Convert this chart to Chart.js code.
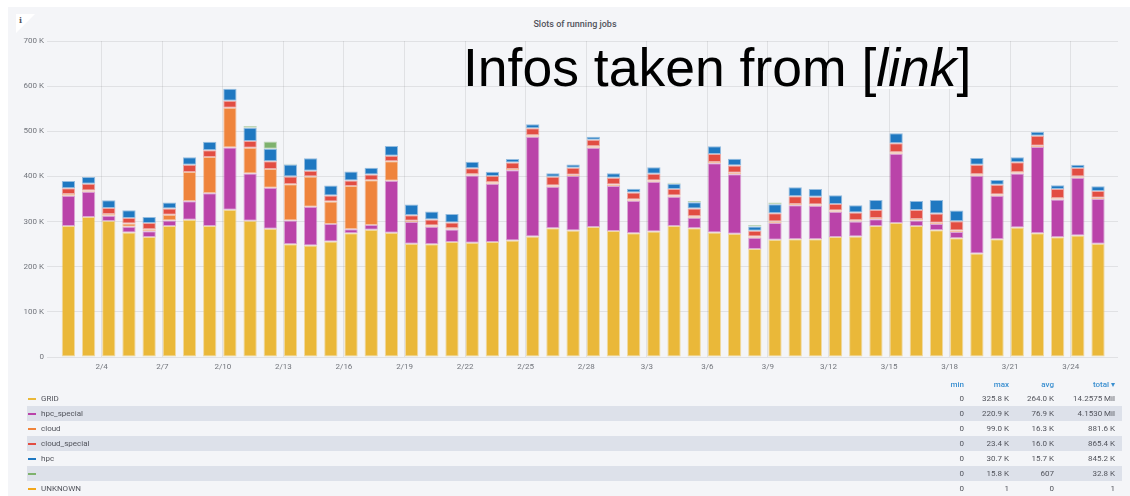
<!DOCTYPE html>
<html><head><meta charset="utf-8">
<script src="https://cdn.jsdelivr.net/npm/chart.js@4/dist/chart.umd.min.js"></script>
<style>
html,body{margin:0;padding:0;background:#fff;}
body{width:1130px;height:496px;position:relative;overflow:hidden;font-family:Roboto,"Noto Sans",sans-serif;}
#panel{position:absolute;left:8px;top:7px;right:0;bottom:0;background:#f4f5f8;}
#corner{position:absolute;left:16px;top:14px;width:0;height:0;border-top:19px solid #fff;border-right:19px solid transparent;}
#info{position:absolute;left:19px;top:15px;font:bold 8px "DejaVu Serif",serif;color:#52545c;}
#title{position:absolute;left:0;width:1150px;top:19px;text-align:center;font:500 9px Roboto,sans-serif;color:#52545c;}
#chart{position:absolute;left:0;top:0;}
#overlay{position:absolute;left:463px;top:41px;font-size:53.5px;font-family:"Liberation Sans",Arial,sans-serif;line-height:1;color:#000;white-space:nowrap;}
#overlay i{text-decoration:underline;text-decoration-color:#fff;text-decoration-thickness:2px;}
.row{position:absolute;left:27px;width:1095px;height:15px;font:8px Roboto,sans-serif;line-height:15px;color:#52545c;}
.row.shade{background:#dde1ea;}
.sw{position:absolute;left:1px;top:7px;width:8px;height:2px;}
.nm{position:absolute;left:14px;top:0;}
.c{position:absolute;top:0;text-align:right;width:80px;}
.hdr{color:#3a8fd0;font-weight:500;}
</style>
</head><body>
<div id="panel"></div>
<div id="corner"></div>
<div id="info">i</div>
<div id="title">Slots of running jobs</div>
<canvas id="chart" width="1130" height="380"></canvas>
<div id="overlay">Infos taken from [<i>link</i>]</div>
<div id="legend"></div>
<script>
// dates of the daily bars
const days = ['2/2','2/3','2/4','2/5','2/6','2/7','2/8','2/9','2/10','2/11','2/12','2/13','2/14','2/15','2/16','2/17','2/18','2/19','2/20','2/21','2/22','2/23','2/24','2/25','2/26','2/27','2/28','3/1','3/2','3/3','3/4','3/5','3/6','3/7','3/8','3/9','3/10','3/11','3/12','3/13','3/14','3/15','3/16','3/17','3/18','3/19','3/20','3/21','3/22','3/23','3/24','3/25'];
const tickLabels = ['2/4','2/7','2/10','2/13','2/16','2/19','2/22','2/25','2/28','3/3','3/6','3/9','3/12','3/15','3/18','3/21','3/24'];
const yTicks = [0,100,200,300,400,500,600,700];
// values in thousands of slots
const GRID = [290,310,301,276,266,290,304,290,326,302,284,250,247, 256,274,282,275,251,250,255,253,255,258,267,285,280, 288,279,274,278,290,285,276,273,239,260,261,261,266, 267,290,297,290,281,263,229,261,287,274,265,269,251];
const hpc_special = [67,56,12,12.5,12.5,12.6,41,73,138,104.5,91,52.6,86, 38.5,9,10.4,115.6,48,38.5,27.4,149,129,155.6,221,92,120.7, 175.6,100,72,110,65,23.7,153,132,25,37,75,74,55.5, 33,15,153.4,12.6,13.4,14,172.6,96,119.3,191,83.7,128,99];
const cloud = [4,3,4,7,4.5,12.6,65,80,88,57,41.5,80,66.7, 50,96,99,43,3,3,3,3,3,3,3,3,3, 3,3,3,3,3,3,3,3,3,3,3,3,3, 3,3,3,3,3,3,3,3,3,3,3,3,3];
const cloud_special = [12.6,15,13,12.6,14,14,15.6,15,15.5,15,17,17,13, 13.4,12,12.6,12,12,13,12.6,13.3,14,14,15.5,19.3,15.6, 14.8,14.8,15.6,14.8,14,17,17.8,16.3,12.6,18.5,17,17,14.7, 17,17.8,20,20,20.7,20.7,21.5,21.5,22.3,22.2,20.7,18.6,14.8];
const hpc = [16,15,17,17,13.4,13,17,19,26.6,29.6,28,26.7,27.4, 22,20,15,22,24,18,18.5,14,9.6,8,9,8,7.4, 6.7,10.3,8,14.8,12,14,17,15,9.6,20,20,17,19.3, 16.3,22,22,20,29.6,23.7,14.8,10.4,11,8.9,8.2,7.4,10.4];
const unnamed = [0,0,0,0,0,0,0,0,0,3.8,16,2,0, 0,0,0,0,0,0,0,0,0,0,0,0,0, 0,0,0,0,2,3,0,0,3,3.7,0,0,0, 0,0,0,0,0,0,0,0,0,0,0,0,0];
const UNKNOWN = [0,0,0,0,0,0,0,0,0,0,0.001,0,0, 0,0,0,0,0,0,0,0,0,0,0,0,0, 0,0,0,0,0,0,0,0,0,0,0,0,0, 0,0,0,0,0,0,0,0,0,0,0,0,0];

const seriesNames = ['GRID','hpc_special','cloud','cloud_special','hpc','','UNKNOWN'];
const seriesColors = ['#EAB839','#BA43A9','#EF843C','#E24D42','#1F78C1','#7EB26D','#F2A71B'];
const seriesData = [GRID,hpc_special,cloud,cloud_special,hpc,unnamed,UNKNOWN];
const statMin = ['0','0','0','0','0','0','0'];
const statMax = ['325.8 K','220.9 K','99.0 K','23.4 K','30.7 K','15.8 K','1'];
const statAvg = ['264.0 K','76.9 K','16.3 K','16.0 K','15.7 K','607','0'];
const statTotal = ['14.2575 Mil','4.1530 Mil','881.6 K','865.4 K','845.2 K','32.8 K','1'];

const BAR_OFFSET = 0.35;
function hexA(h,a){const n=parseInt(h.slice(1),16);return `rgba(${n>>16},${(n>>8)&255},${n&255},${a})`;}

const datasets = seriesData.map((arr,k)=>({
  label: seriesNames[k] || ' ',
  data: arr.map((v,i)=>({x:i+BAR_OFFSET,y:v})),
  backgroundColor: seriesColors[k],
  borderColor: hexA(seriesColors[k],0.45),
  borderWidth: 1,
  borderSkipped: false,
  barPercentage: 0.66,
  categoryPercentage: 1
}));

new Chart(document.getElementById('chart'),{
  type:'bar',
  data:{datasets},
  options:{
    responsive:false,animation:false,
    layout:{padding:{left:0,top:41,right:12,bottom:0}},
    plugins:{legend:{display:false},tooltip:{enabled:false},title:{display:false}},
    scales:{
      x:{type:'linear',stacked:true,min:-0.71,max:52.34,offset:false,
        border:{display:false},
        grid:{color:'rgba(0,0,0,0.08)',drawTicks:false,lineWidth:1,offset:false},
        afterBuildTicks:s=>{s.ticks=tickLabels.map(l=>({value:days.indexOf(l)}));},
        afterFit:s=>{s.height=23;},
        ticks:{autoSkip:false,maxRotation:0,padding:5,color:'#72757c',font:{family:'Roboto',size:8},
          callback:(v)=>days[v]}
      },
      y:{stacked:true,min:0,max:700,
        border:{display:false},
        grid:{color:'rgba(0,0,0,0.08)',drawTicks:false,lineWidth:1},
        afterBuildTicks:s=>{s.ticks=yTicks.map(v=>({value:v}));},
        afterFit:s=>{s.width=47;},
        ticks:{padding:3,color:'#72757c',font:{family:'Roboto',size:8},callback:v=>v===0?'0':v+' K'}
      }
    }
  }
});

// legend table
const lg=document.getElementById('legend');
const cols=[964,1009,1054,1115];
let html=`<div class="row hdr" style="top:377px">`+['min','max','avg','total ▾'].map((t,j)=>`<div class="c" style="left:${cols[j]-27-80}px">${t}</div>`).join('')+`</div>`;
seriesNames.forEach((n,k)=>{
  const top=391+15*k;
  const vals=[statMin[k],statMax[k],statAvg[k],statTotal[k]];
  html+=`<div class="row${k%2?' shade':''}" style="top:${top}px"><div class="sw" style="background:${seriesColors[k]}"></div><div class="nm">${n}</div>`+
    vals.map((t,j)=>`<div class="c" style="left:${cols[j]-27-80}px">${t}</div>`).join('')+`</div>`;
});
lg.innerHTML=html;
</script>
</body></html>
